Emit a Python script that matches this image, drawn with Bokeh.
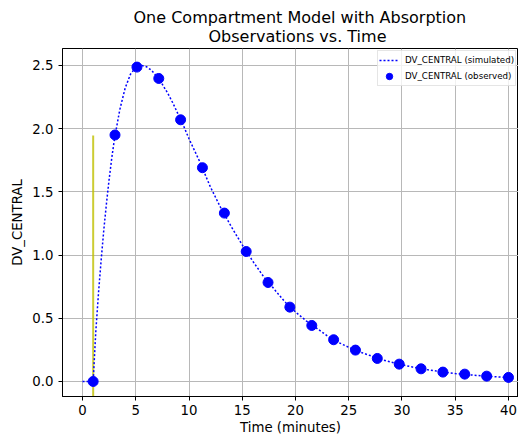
from bokeh.plotting import figure
from bokeh.models import (Range1d, FixedTicker, PrintfTickFormatter, Legend,
                          LegendItem, Title)
from bokeh.embed import file_html
from bokeh.resources import INLINE

# ---- data ----
sim_time = [0.0, 0.5, 1.0, 1.25, 1.5, 1.75, 2.0, 2.25, 2.5, 2.75, 3.0, 3.5,
            4.0, 4.5, 5.0, 5.5, 6.0, 6.5, 7.0, 7.5, 8.0, 8.5, 9.0, 9.5,
            10, 11, 12, 13, 14, 15, 16, 17, 18, 19, 20, 21, 22, 23, 24, 25,
            26, 27, 28, 29, 30, 31, 32, 33, 34, 35, 36, 37, 38, 39, 40]
sim_conc = [0.0, 0.0, 0.0, 0.40, 0.70, 0.96, 1.20, 1.41, 1.60, 1.77, 1.92,
            2.15, 2.32, 2.43, 2.485, 2.50, 2.49, 2.46, 2.41, 2.35, 2.28,
            2.20, 2.11, 2.02, 1.92, 1.74, 1.54, 1.37, 1.22, 1.08, 0.95,
            0.83, 0.73, 0.63, 0.55, 0.48, 0.42, 0.36, 0.31, 0.27, 0.235,
            0.205, 0.175, 0.152, 0.132, 0.114, 0.098, 0.085, 0.073, 0.063,
            0.055, 0.048, 0.041, 0.036, 0.031]

obs_time = [1.0, 3.05, 5.11, 7.16, 9.21, 11.26, 13.32, 15.37, 17.42, 19.47,
            21.53, 23.58, 25.63, 27.68, 29.74, 31.79, 33.84, 35.89, 37.95,
            40.0]
obs_conc = [0.0, 1.95, 2.487, 2.397, 2.07, 1.691, 1.332, 1.028, 0.783,
            0.588, 0.443, 0.33, 0.248, 0.182, 0.137, 0.10, 0.074, 0.058,
            0.042, 0.032]

dose_time = [1.0]
dose_level = [1.946]

x_ticks = [0, 5, 10, 15, 20, 25, 30, 35, 40]
y_ticks = [0.0, 0.5, 1.0, 1.5, 2.0, 2.5]

FONT = "DejaVu Sans"
y_lo, y_hi = -0.119, 2.634

p = figure(width=518, height=437, output_backend="svg", toolbar_location=None,
           x_range=Range1d(-1.88, 40.94), y_range=Range1d(y_lo, y_hi),
           min_border_left=62, min_border_right=0, min_border_top=48,
           min_border_bottom=41)
p.background_fill_color = "white"
p.border_fill_color = "white"
p.outline_line_color = "black"
p.outline_line_width = 1

# titles (first added is nearest the frame)
t2 = Title(text="Observations vs. Time", align="left", offset=146,
           text_font=FONT, text_font_size="16px", text_font_style="normal",
           text_color="black", standoff=6)
p.add_layout(t2, "above")
t1 = Title(text="One Compartment Model with Absorption", align="left",
           offset=71, text_font=FONT, text_font_size="16px",
           text_font_style="normal", text_color="black", standoff=-11)
p.add_layout(t1, "above")

# axes
for ax in (p.xaxis[0], p.yaxis[0]):
    ax.axis_line_color = "black"
    ax.axis_line_width = 1
    ax.major_tick_line_color = "black"
    ax.major_tick_in = 0
    ax.major_tick_out = 4
    ax.minor_tick_line_color = None
    ax.major_label_text_font = FONT
    ax.major_label_text_font_size = "13.3px"
    ax.major_label_text_color = "black"
    ax.axis_label_text_font = FONT
    ax.axis_label_text_font_size = "13.3px"
    ax.axis_label_text_font_style = "normal"
    ax.axis_label_text_color = "black"

p.xaxis.ticker = FixedTicker(ticks=x_ticks)
p.yaxis.ticker = FixedTicker(ticks=y_ticks)
p.yaxis.formatter = PrintfTickFormatter(format="%.1f")
p.xaxis.axis_label = "Time (minutes)"
p.yaxis.axis_label = "DV_CENTRAL"
p.xaxis.major_label_standoff = 4
p.xaxis.axis_label_standoff = 2
p.yaxis.major_label_standoff = 5
p.yaxis.axis_label_standoff = 4

p.grid.grid_line_color = "#b8b8b8"
p.grid.grid_line_width = 1

# dose marker
p.segment(x0=dose_time, y0=[y_lo] * len(dose_time), x1=dose_time,
          y1=dose_level, line_color="#bfbf00", line_alpha=0.8, line_width=2)

sim = p.line(sim_time, sim_conc, line_color="blue", line_width=1.5,
             line_dash="2 2")
obs = p.scatter(obs_time, obs_conc, size=10, fill_color="blue",
                line_color="blue")

legend = Legend(items=[LegendItem(label="DV_CENTRAL (simulated)", renderers=[sim]),
                       LegendItem(label="DV_CENTRAL (observed)", renderers=[obs])],
                location=(315, 310), padding=1, spacing=-2, margin=0,
                glyph_width=20, glyph_height=16, label_height=16,
                label_standoff=6, label_text_font=FONT,
                label_text_font_size="8.7px", label_text_color="black",
                border_line_color="#cccccc", border_line_width=1,
                background_fill_alpha=0.8)
p.add_layout(legend)

open("out.html", "w").write(file_html(p, INLINE))
